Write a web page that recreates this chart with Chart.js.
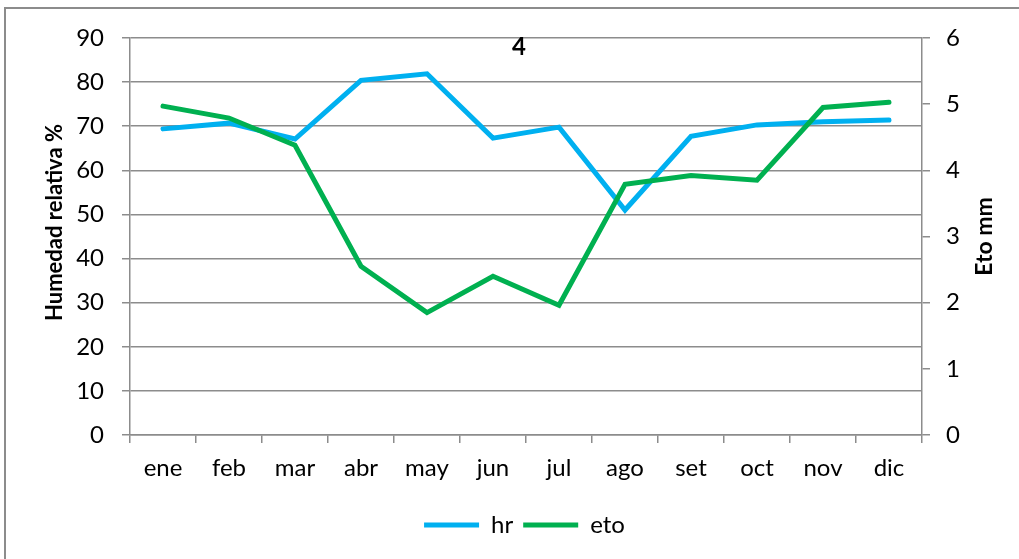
<!DOCTYPE html>
<html>
<head>
<meta charset="utf-8">
<script src="https://cdn.jsdelivr.net/npm/chart.js@4/dist/chart.umd.min.js"></script>
<style>
    body { margin: 0; background: #fff; overflow: hidden; }
    #wrap { position: relative; width: 1019px; height: 559px; }
    #frame { position: absolute; left: 4px; top: 7px; width: 1040px; height: 600px; border: 2px solid #8c8c8c; }
    canvas { position: absolute; left: 0; top: 0; }
</style>
</head>
<body>
<div id="wrap">
    <div id="frame"></div>
    <canvas id="climaChart" width="1019" height="559"></canvas>
</div>
<script>
var months = ['ene', 'feb', 'mar', 'abr', 'may', 'jun', 'jul', 'ago', 'set', 'oct', 'nov', 'dic'];
var hrValues = [69.4, 70.7, 67.1, 80.4, 81.9, 67.3, 69.8, 51.0, 67.7, 70.3, 71.0, 71.4];
var etoValues = [4.97, 4.79, 4.38, 2.55, 1.85, 2.40, 1.96, 3.79, 3.92, 3.85, 4.95, 5.03];
var chartTitle = '4';
var leftTitle = 'Humedad relativa %';
var rightTitle = 'Eto mm';

var gridGray = '#8c8c8c';
var fontFamily = 'Lato, "Liberation Sans", sans-serif';

// title "4" sits inside the plot; both axis titles read bottom-to-top
var extraText = {
    id: 'extraText',
    afterDraw: function (chart) {
        var ctx = chart.ctx;
        var area = chart.chartArea;
        ctx.save();
        ctx.fillStyle = '#000';
        ctx.textAlign = 'center';
        ctx.textBaseline = 'middle';
        ctx.font = 'bold 24px ' + fontFamily;
        ctx.fillText(chartTitle, (area.left + area.right) / 2 - 7, area.top + 9);

        ctx.save();
        ctx.font = 'bold 22px ' + fontFamily;
        ctx.translate(55, (area.top + area.bottom) / 2 - 14);
        ctx.rotate(-Math.PI / 2);
        ctx.fillText(leftTitle, 0, 0);
        ctx.restore();

        ctx.font = 'bold 23px ' + fontFamily;
        ctx.translate(985, (area.top + area.bottom) / 2);
        ctx.rotate(-Math.PI / 2);
        ctx.fillText(rightTitle, 0, 0);
        ctx.restore();
    }
};

var ctx = document.getElementById('climaChart').getContext('2d');

new Chart(ctx, {
    type: 'line',
    data: {
        labels: months,
        datasets: [{
            label: 'hr',
            data: hrValues,
            borderColor: '#00b0f0',
            backgroundColor: '#00b0f0',
            borderWidth: 5,
            borderCapStyle: 'round',
            pointRadius: 0,
            tension: 0,
            yAxisID: 'y',
            order: 1
        }, {
            label: 'eto',
            data: etoValues,
            borderColor: '#00b050',
            backgroundColor: '#00b050',
            borderWidth: 5,
            borderCapStyle: 'round',
            pointRadius: 0,
            tension: 0,
            yAxisID: 'y1',
            order: 0
        }]
    },
    options: {
        responsive: false,
        animation: false,
        layout: {
            padding: { top: 38, bottom: 12, left: 30, right: 0 }
        },
        plugins: {
            tooltip: { enabled: false },
            legend: {
                position: 'bottom',
                labels: {
                    usePointStyle: true,
                    pointStyle: 'line',
                    pointStyleWidth: 55,
                    color: '#000',
                    padding: 10,
                    font: { family: fontFamily, size: 24 },
                    sort: function (a, b) { return a.datasetIndex - b.datasetIndex; }
                }
            }
        },
        scales: {
            x: {
                offset: true,
                grid: {
                    offset: true,
                    drawOnChartArea: false,
                    tickLength: 8,
                    color: gridGray,
                    lineWidth: 1.5
                },
                border: { display: true, color: gridGray, width: 1.5 },
                ticks: {
                    color: '#000',
                    padding: 11,
                    maxRotation: 0,
                    font: { family: fontFamily, size: 24 }
                },
                afterFit: function (scale) { scale.height = 68; }
            },
            y: {
                position: 'left',
                min: 0,
                max: 90,
                ticks: {
                    stepSize: 10,
                    color: '#000',
                    padding: 18,
                    font: { family: fontFamily, size: 24 }
                },
                grid: { tickLength: 8, color: gridGray, lineWidth: 1.5 },
                border: { display: true, color: gridGray, width: 1.5 },
                afterFit: function (scale) { scale.width = 100; }
            },
            y1: {
                position: 'right',
                min: 0,
                max: 6,
                ticks: {
                    stepSize: 1,
                    color: '#000',
                    padding: 16,
                    font: { family: fontFamily, size: 24 }
                },
                grid: { drawOnChartArea: false, tickLength: 8, color: gridGray, lineWidth: 1.5 },
                border: { display: true, color: gridGray, width: 1.5 },
                afterFit: function (scale) { scale.width = 97; }
            }
        }
    },
    plugins: [extraText]
});
</script>
</body>
</html>
